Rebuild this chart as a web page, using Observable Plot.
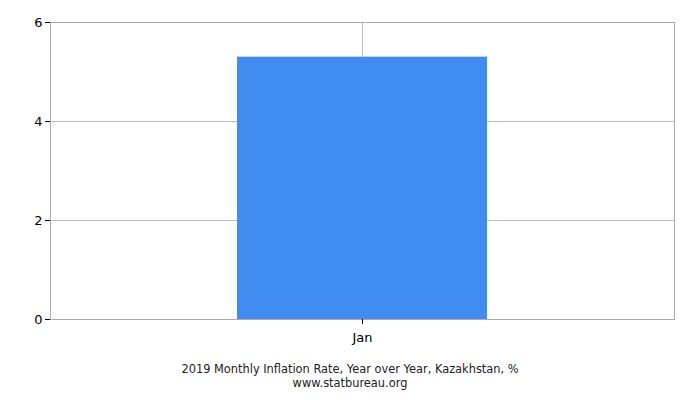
<!DOCTYPE html>
<html>
<head>
<meta charset="utf-8">
<script src="https://cdn.jsdelivr.net/npm/d3@7"></script>
<script src="https://cdn.jsdelivr.net/npm/@observablehq/plot@0.6"></script>
<style>
  body { margin: 0; background: #fff; font-family: "DejaVu Sans", sans-serif; }
  #chart { width: 700px; height: 345px; }
  .caption { width: 700px; text-align: center; font-size: 11.4px; line-height: 13.5px; color: #222; margin-top: 18px; }
  .caption div { white-space: nowrap; }
</style>
</head>
<body>
<div id="chart"></div>
<div class="caption"><div>2019 Monthly Inflation Rate, Year over Year, Kazakhstan, %</div><div>www.statbureau.org</div></div>
<script>
const months = ["Jan"];
const values = [5.3];
const yTicks = [0, 2, 4, 6];

const data = months.map((m, i) => ({month: m, value: values[i]}));

const chart = Plot.plot({
  width: 700,
  height: 345,
  marginLeft: 50,
  marginRight: 26,
  marginTop: 22,
  marginBottom: 26,
  style: {fontFamily: "DejaVu Sans, sans-serif", fontSize: "13px", color: "#000", background: "#fff", display: "block"},
  x: {type: "band", domain: months, paddingInner: 0.6, paddingOuter: 0.3, label: null},
  y: {domain: [0, 6], label: null},
  marks: [
    Plot.gridY(yTicks, {stroke: "#bbb", strokeOpacity: 1}),
    Plot.gridX(months, {stroke: "#bbb", strokeOpacity: 1}),
    Plot.barY(data, {x: "month", y: "value", fill: "#418cf0"}),
    Plot.frame({stroke: "#aaa"}),
    Plot.axisY(yTicks, {tickSize: 5, tickPadding: 3, tickFormat: "d", stroke: "#000", fontSize: 13}),
    Plot.axisX(months, {tickSize: 5, tickPadding: 8, stroke: "#000", fontSize: 13})
  ]
});
document.getElementById("chart").appendChild(chart);
</script>
</body>
</html>
